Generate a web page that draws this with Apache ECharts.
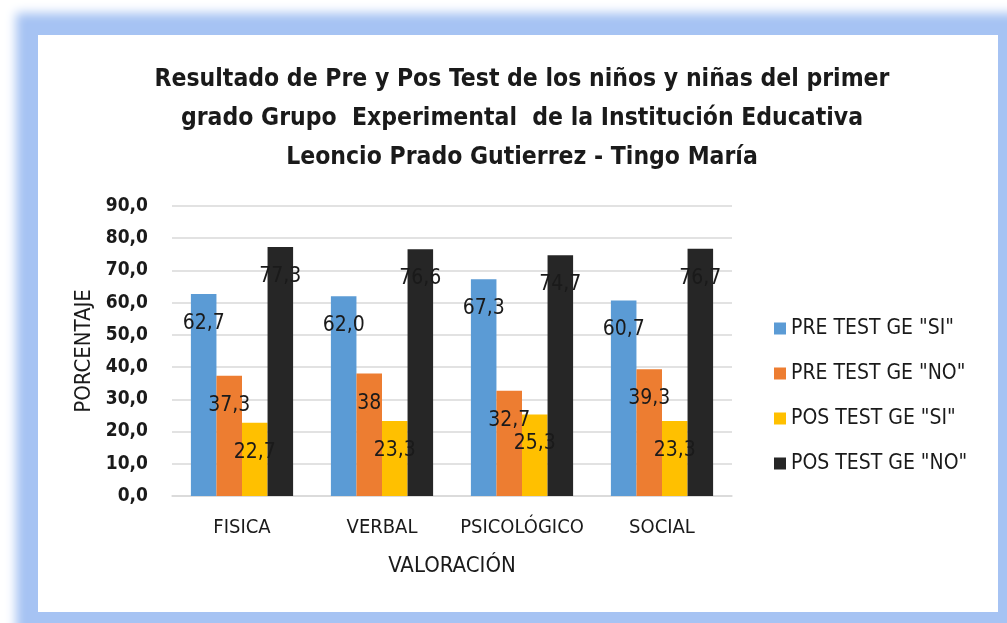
<!DOCTYPE html>
<html>
<head>
<meta charset="utf-8">
<script src="https://cdn.jsdelivr.net/npm/echarts@6/dist/echarts.min.js"></script>
<style>
  html, body { margin: 0; padding: 0; background: #fff; }
  #frame {
    position: absolute; left: 38px; top: 35px; width: 960px; height: 577px;
    background: #fff;
    box-shadow: 0 0 10px 22px #a6c3f3;
  }
  #main { position: absolute; left: 0; top: 0; width: 1007px; height: 623px; }
</style>
</head>
<body>
<div id="frame"></div>
<div id="main"></div>
<script>
// data
var categories = ['FISICA', 'VERBAL', 'PSICOLÓGICO', 'SOCIAL'];
var preSi = ['62.7', '62.0', '67.3', '60.7'];
var preNo = ['37.3', '38', '32.7', '39.3'];
var posSi = ['22.7', '23.3', '25.3', '23.3'];
var posNo = ['77.3', '76.6', '74.7', '76.7'];
var seriesNames = ['PRE TEST GE "SI"', 'PRE TEST GE "NO"', 'POS TEST GE "SI"', 'POS TEST GE "NO"'];
var colors = ['#5b9bd5', '#ed7d31', '#ffc000', '#262626'];

var font = '"DejaVu Sans Condensed", sans-serif';

var chart = echarts.init(document.getElementById('main'));

function makeSeries(name, data, color) {
  return {
    name: name,
    type: 'bar',
    data: data,
    barGap: 0,
    barCategoryGap: '27%',
    itemStyle: { color: color },
    label: {
      show: true,
      position: 'insideTop',
      distance: 19,
      color: '#1a1a1a',
      fontFamily: font,
      fontSize: 21,
      formatter: function (p) { return String(p.data).replace('.', ','); }
    }
  };
}

chart.setOption({
  backgroundColor: 'transparent',
  color: colors,
  title: {
    text: 'Resultado de Pre y Pos Test de los niños y niñas del primer\ngrado Grupo  Experimental  de la Institución Educativa\nLeoncio Prado Gutierrez - Tingo María',
    left: 517,
    top: 55,
    textAlign: 'center',
    textStyle: {
      fontFamily: font,
      fontSize: 24.5,
      fontWeight: 'bold',
      lineHeight: 39,
      color: '#1a1a1a'
    }
  },
  legend: {
    orient: 'vertical',
    left: 769,
    top: 313,
    itemWidth: 12,
    itemHeight: 12,
    itemGap: 24,
    icon: 'rect',
    data: seriesNames,
    textStyle: { fontFamily: font, fontSize: 21, color: '#1a1a1a' }
  },
  grid: { left: 172, right: 275, top: 206, bottom: 127 },
  xAxis: {
    type: 'category',
    data: categories,
    name: 'VALORACIÓN',
    nameLocation: 'middle',
    nameGap: 59,
    nameTextStyle: { fontFamily: font, fontSize: 22, color: '#1a1a1a' },
    axisTick: { show: false },
    axisLine: { lineStyle: { color: '#d9d9d9', width: 1.5 } },
    axisLabel: { interval: 0, margin: 22, fontFamily: font, fontSize: 20, color: '#1a1a1a' }
  },
  yAxis: {
    type: 'value',
    min: 0,
    max: 90,
    interval: 10,
    name: 'PORCENTAJE',
    nameLocation: 'middle',
    nameGap: 73,
    nameTextStyle: { fontFamily: font, fontSize: 22, color: '#1a1a1a' },
    axisLine: { show: false },
    axisTick: { show: false },
    splitLine: { lineStyle: { color: '#d9d9d9', width: 1.5 } },
    axisLabel: {
      margin: 24,
      fontFamily: font,
      fontSize: 19,
      fontWeight: 'bold',
      color: '#1a1a1a',
      formatter: function (v) { return v.toFixed(1).replace('.', ','); }
    }
  },
  series: [
    makeSeries(seriesNames[0], preSi, colors[0]),
    makeSeries(seriesNames[1], preNo, colors[1]),
    makeSeries(seriesNames[2], posSi, colors[2]),
    makeSeries(seriesNames[3], posNo, colors[3])
  ]
});
</script>
</body>
</html>
